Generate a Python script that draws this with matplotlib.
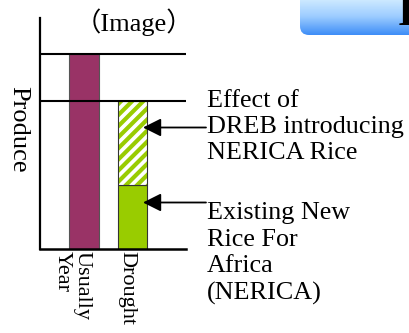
import numpy as np
import matplotlib
matplotlib.use("Agg")
import matplotlib.pyplot as plt
from matplotlib.patches import FancyBboxPatch
from matplotlib.colors import LinearSegmentedColormap
from matplotlib.transforms import offset_copy

# Yield index (usual year = 100)
categories = ["Usually\nYear", "Drought"]
usual_yield = [100]
nerica_yield = [33]
dreb_effect = [43]

title_text = "（Image）"
ylabel_text = "Produce"
dreb_note = "Effect of\nDREB introducing\nNERICA Rice"
nerica_note = "Existing New\nRice For\nAfrica\n(NERICA)"
banner_text = "I"

PURPLE = "#993366"
GREEN = "#99cc00"

plt.rcParams["font.family"] = ["Liberation Serif", "Noto Sans CJK JP"]
plt.rcParams["hatch.linewidth"] = 3.0

W, H = 409, 333
fig = plt.figure(figsize=(W / 100, H / 100), dpi=100)

# banner box in the top right corner, in pixel coords
banner = fig.add_axes([0, 0, 1, 1])
banner.axis("off")
sky = LinearSegmentedColormap.from_list("sky", ["#c8e6ff", "#d2ecff", "#9cccff", "#3f8ef7"])
box = FancyBboxPatch((300, -20), 140, 55, boxstyle="round,pad=0,rounding_size=9",
                     facecolor="none", edgecolor="none")
banner.add_patch(box)
grad = np.linspace(0, 1, 100)[:, None]
img = banner.imshow(grad, extent=(300, 440, 35, -20), cmap=sky, aspect="auto")
img.set_clip_path(box)
banner.set_xlim(0, W)
banner.set_ylim(H, 0)
banner.text(398, 25, banner_text, fontsize=30, fontweight="bold", ha="left", va="baseline")

# main bar chart
ax = fig.add_axes([40 / W, 1 - 249 / H, 146 / W, 231 / H])
bw = 0.61
ax.bar(0, usual_yield[0], width=bw, color=PURPLE, edgecolor="#555555", linewidth=0.8, zorder=2)
ax.bar(1, nerica_yield[0], width=bw, color=GREEN, edgecolor="#333333", linewidth=0.8, zorder=2)
ax.bar(1, dreb_effect[0], bottom=nerica_yield[0], width=bw, color="white",
       edgecolor=GREEN, hatch="///", linewidth=0, zorder=2)
ax.bar(1, dreb_effect[0], bottom=nerica_yield[0], width=bw, fill=False,
       edgecolor="#333333", linewidth=0.8, zorder=2)

for level in (usual_yield[0], nerica_yield[0] + dreb_effect[0]):
    ax.axhline(level, color="black", lw=1.5, zorder=3)

ax.set_xlim(-0.907, 2.103)
ax.set_ylim(0, 118.5)
ax.set_xticks([])
ax.set_yticks([])
for side in ("top", "right"):
    ax.spines[side].set_visible(False)
ax.spines["left"].set_linewidth(1.6)
ax.spines["bottom"].set_linewidth(1.8)
ax.patch.set_alpha(0)

# rotated category labels under the bars
label_tf = offset_copy(ax.get_xaxis_transform(), fig=fig, y=-2, units="dots")
ax.text(-0.25, 0, categories[0], transform=label_tf, rotation=-90, ha="center", va="top",
        ma="left", fontsize=16, linespacing=1.05)
ax.text(0.89, 0, categories[1], transform=label_tf, rotation=-90, ha="center", va="top",
        fontsize=16)

fig.text(134 / W, 1 - 22 / H, title_text, ha="center", va="center", fontsize=19)
fig.text(18 / W, 1 - 129 / H, ylabel_text, rotation=-90, ha="center", va="center", fontsize=19)

fig.text(207 / W, 1 - 127 / H, dreb_note, ha="left", va="center", fontsize=18.8, linespacing=1.25)
fig.text(207 / W, 1 - 253.5 / H, nerica_note, ha="left", va="center", fontsize=18.8, linespacing=1.25)

arrow = dict(arrowstyle="-|>,head_length=1.1,head_width=0.55", mutation_scale=10,
             color="black", lw=1.3, shrinkA=0, shrinkB=0)
for y in (127.5, 202.5):
    fig.add_artist(plt.Annotation("", xy=(143, H - y), xycoords="figure pixels",
                                  xytext=(206, H - y), textcoords="figure pixels",
                                  arrowprops=arrow))

fig.savefig("out.png", dpi=100)
